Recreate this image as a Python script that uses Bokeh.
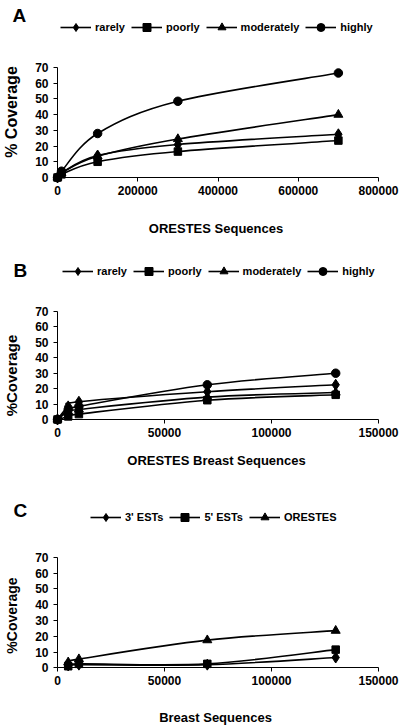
import numpy as np
from bokeh.plotting import figure
from bokeh.layouts import column
from bokeh.models import (Label, Legend, LegendItem, FixedTicker, NumeralTickFormatter,
                          Range1d, ColumnDataSource)
from bokeh.embed import file_html
from bokeh.resources import INLINE

# ---------------- data ----------------
x_a = [0, 10000, 100000, 300000, 700000]
rarely_a = [0, 3, 14, 21, 27.5]
poorly_a = [0, 2, 10, 16.5, 23.5]
moderately_a = [0, 3, 13.5, 24.5, 40]
highly_a = [0, 4, 28, 48.5, 66.5]

x_b = [0, 5000, 10000, 70000, 130000]
rarely_b = [0, 8.5, 11.5, 18, 22.5]
poorly_b = [0, 2, 3.5, 12.5, 16]
moderately_b = [0, 5, 6.5, 14.5, 17.5]
highly_b = [0, 6.5, 8.5, 22.5, 30]

x_c = [5000, 10000, 70000, 130000]
est3_c = [1.5, 2, 2, 6.5]
est5_c = [1, 2.5, 2.5, 11.5]
orestes_c = [3.5, 5.5, 17.5, 23.5]

names_ab = ["rarely", "poorly", "moderately", "highly"]
names_c = ["3' ESTs", "5' ESTs", "ORESTES"]
y_ticks = [0, 10, 20, 30, 40, 50, 60, 70]
x_ticks_a = [0, 200000, 400000, 600000, 800000]
x_ticks_bc = [0, 50000, 100000, 150000]

FONT = "Liberation Sans"
MARKERS = {"diamond": 11, "square": 7.5, "triangle": 9, "circle": 8.5}
W = 400


def smooth_source(x, y):
    P = np.column_stack([x, y]).astype(float)
    n = len(P)
    d = {k: [] for k in ("x0", "y0", "x1", "y1", "cx0", "cy0", "cx1", "cy1")}
    for i in range(n - 1):
        pm, p0, p1, p2 = P[max(i - 1, 0)], P[i], P[i + 1], P[min(i + 2, n - 1)]
        c0 = p0 + (p1 - pm) / 6.0
        c1 = p1 - (p2 - p0) / 6.0
        d["x0"].append(p0[0]); d["y0"].append(p0[1])
        d["x1"].append(p1[0]); d["y1"].append(p1[1])
        d["cx0"].append(c0[0]); d["cy0"].append(c0[1])
        d["cx1"].append(c1[0]); d["cy1"].append(c1[1])
    return ColumnDataSource(d)


def make_panel(letter, names, xs, series, markers, x_end, x_ticks, H, box,
               xtitle, ytitle, ytitle_size, pos):
    # box: pixel position (canvas) of the data area: left, right, top, bottom
    bl, br, bt, bb = box
    xs_per_px = x_end / (br - bl)
    ys_per_px = 70.0 / (bb - bt)
    xr = Range1d(-bl * xs_per_px, x_end + (W - br) * xs_per_px)
    yr = Range1d(-(H - bb) * ys_per_px, 70 + bt * ys_per_px)
    p = figure(width=W, height=H, output_backend="svg", toolbar_location=None,
               x_range=xr, y_range=yr,
               min_border_left=0, min_border_right=0, min_border_top=0, min_border_bottom=0)
    p.outline_line_color = None
    p.xgrid.visible = False
    p.ygrid.visible = False
    p.background_fill_color = "white"
    p.border_fill_color = "white"

    for ax in (p.xaxis[0], p.yaxis[0]):
        ax.fixed_location = 0
        ax.axis_line_color = "black"
        ax.axis_line_width = 1
        ax.major_tick_line_color = "black"
        ax.major_tick_out = 4
        ax.major_tick_in = 0
        ax.minor_tick_line_color = None
        ax.major_label_text_font = FONT
        ax.major_label_text_font_style = "bold"
        ax.major_label_text_font_size = "12px"
        ax.major_label_text_color = "black"
    p.xaxis[0].ticker = FixedTicker(ticks=x_ticks)
    p.xaxis[0].formatter = NumeralTickFormatter(format="0")
    p.xaxis[0].bounds = (0, x_end)
    p.xaxis[0].major_label_standoff = 4
    p.yaxis[0].ticker = FixedTicker(ticks=y_ticks)
    p.yaxis[0].bounds = (0, 70)
    p.yaxis[0].major_label_standoff = 5

    items = []
    for name, ys, mk in zip(names, series, markers):
        src = smooth_source(xs, ys)
        r_line = p.bezier(x0="x0", y0="y0", x1="x1", y1="y1", cx0="cx0", cy0="cy0",
                          cx1="cx1", cy1="cy1", source=src, line_color="black", line_width=1.6)
        r_mk = p.scatter(xs, ys, marker=mk, size=MARKERS[mk], fill_color="black",
                         line_color="black")
        items.append(LegendItem(label=name, renderers=[r_line, r_mk]))

    legend = Legend(items=items, orientation="horizontal", location=pos["legend"],
                    border_line_alpha=0, background_fill_alpha=0, padding=0, margin=0,
                    spacing=6, glyph_width=31, glyph_height=20, label_height=20,
                    label_standoff=4, label_text_font=FONT, label_text_font_style="bold",
                    label_text_font_size="11px", label_text_color="black")
    p.add_layout(legend)

    p.add_layout(Label(x=pos["letter"][0], y=pos["letter"][1], x_units="screen",
                       y_units="screen", text=letter, text_font=FONT,
                       text_font_style="bold", text_font_size="19px",
                       text_baseline="middle", text_align="left", text_color="black"))
    p.add_layout(Label(x=pos["xtitle"][0], y=pos["xtitle"][1], x_units="screen",
                       y_units="screen", text=xtitle, text_font=FONT,
                       text_font_style="bold", text_font_size="13px",
                       text_baseline="middle", text_align="center", text_color="black"))
    p.add_layout(Label(x=pos["ytitle"][0], y=pos["ytitle"][1], x_units="screen",
                       y_units="screen", text=ytitle, angle=np.pi / 2, text_font=FONT,
                       text_font_style="bold", text_font_size=ytitle_size,
                       text_baseline="middle", text_align="center", text_color="black"))
    return p


pa = make_panel("A", names_ab, x_a, [rarely_a, poorly_a, moderately_a, highly_a],
                ["diamond", "square", "triangle", "circle"], 800000, x_ticks_a,
                240, (57, 378, 67, 177), "ORESTES Sequences", "% Coverage", "16px",
                {"legend": (60, 203), "letter": (12, 225.5), "xtitle": (215.5, 12),
                 "ytitle": (11, 128.5)})
pb = make_panel("B", names_ab, x_b, [rarely_b, poorly_b, moderately_b, highly_b],
                ["diamond", "square", "triangle", "circle"], 150000, x_ticks_bc,
                240, (57, 378, 71, 179), "ORESTES Breast Sequences", "%Coverage", "15px",
                {"legend": (62, 199), "letter": (13, 210), "xtitle": (216, 20),
                 "ytitle": (11, 105)})
pc = make_panel("C", names_c, x_c, [est3_c, est5_c, orestes_c],
                ["diamond", "square", "triangle"], 150000, x_ticks_bc,
                246, (57, 378, 76.7, 187.3), "Breast Sequences", "%Coverage", "14px",
                {"legend": (90, 199), "letter": (13, 216), "xtitle": (215, 9),
                 "ytitle": (11, 111)})

layout = column(pa, pb, pc, spacing=0)
open("out.html", "w").write(file_html(layout, INLINE))
